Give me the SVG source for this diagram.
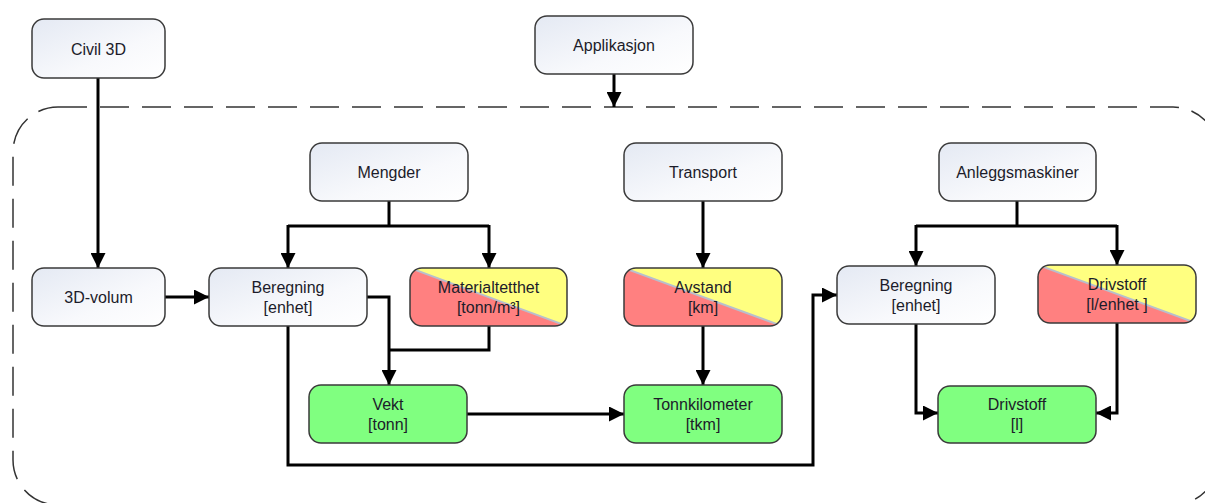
<svg xmlns="http://www.w3.org/2000/svg" width="1205" height="503" viewBox="0 0 1205 503">
  <style>
    .box { stroke: #3a3a3a; stroke-width: 1.5; }
    .plain { fill: url(#lightFill); }
    .green { fill: #80ff80; }
    .lbl { font-family: "Liberation Sans", Arial, sans-serif; font-size: 16px; fill: #1c1c2a; text-anchor: middle; }
    .wire { fill: none; stroke: #000; stroke-width: 3; }
    .arrow { fill: none; stroke: #000; stroke-width: 3; marker-end: url(#head); }
    .split { stroke: #b8bfcc; stroke-width: 2; }
  </style>
  <defs>
    <linearGradient id="lightFill" x1="0" y1="0" x2="1" y2="1">
      <stop offset="0" stop-color="#e4e9f3"/>
      <stop offset="0.6" stop-color="#f8f9fc"/>
      <stop offset="1" stop-color="#ffffff"/>
    </linearGradient>
    <marker id="head" markerUnits="userSpaceOnUse" markerWidth="15" markerHeight="15" refX="15" refY="7.5" orient="auto">
      <path d="M0,0 L15,7.5 L0,15 Z" fill="#000"/>
    </marker>
    <clipPath id="clipMat"><rect x="410" y="268" width="157" height="58" rx="12"/></clipPath>
    <clipPath id="clipAvs"><rect x="624" y="268" width="158" height="58" rx="12"/></clipPath>
    <clipPath id="clipDrv"><rect x="1038" y="265" width="158" height="58" rx="12"/></clipPath>
  </defs>

  <rect width="1205" height="503" fill="#ffffff"/>

  <!-- dashed application frame (runs past the right and bottom edges) -->
  <rect x="13" y="107" width="1205" height="398" rx="45" fill="none" stroke="#333" stroke-width="1.5" stroke-dasharray="29 13"/>

  <!-- connectors -->
  <g id="connectors">
    <path class="arrow" d="M98,78 V268"/>
    <path class="arrow" d="M614,74 V107"/>
    <path class="wire" d="M389,201 V226"/>
    <path class="wire" d="M288,226 H489"/>
    <path class="arrow" d="M288,225 V268"/>
    <path class="arrow" d="M489,225 V268"/>
    <path class="arrow" d="M165,297 H209"/>
    <path class="arrow" d="M367,297 H389 V385"/>
    <path class="wire" d="M489,326 V350 H389"/>
    <path class="arrow" d="M288,326 V465 H813 V295 H837"/>
    <path class="arrow" d="M467,414 H624"/>
    <path class="arrow" d="M703,201 V268"/>
    <path class="arrow" d="M703,326 V385"/>
    <path class="wire" d="M1017,201 V226"/>
    <path class="wire" d="M916,226 H1117"/>
    <path class="arrow" d="M916,225 V266"/>
    <path class="arrow" d="M1117,225 V265"/>
    <path class="arrow" d="M916,324 V413 H938"/>
    <path class="arrow" d="M1117,323 V413 H1096"/>
  </g>

  <g id="civil3d">
    <rect class="box plain" x="32" y="19" width="133" height="59" rx="12"/>
    <text class="lbl" x="98.5" y="54.5">Civil 3D</text>
  </g>
  <g id="applikasjon">
    <rect class="box plain" x="535" y="16" width="158" height="58" rx="12"/>
    <text class="lbl" x="614" y="51">Applikasjon</text>
  </g>
  <g id="mengder">
    <rect class="box plain" x="310" y="143" width="158" height="58" rx="12"/>
    <text class="lbl" x="389" y="177.5">Mengder</text>
  </g>
  <g id="transport">
    <rect class="box plain" x="624" y="143" width="158" height="58" rx="12"/>
    <text class="lbl" x="703" y="177.5">Transport</text>
  </g>
  <g id="anleggsmaskiner">
    <rect class="box plain" x="939" y="143" width="157" height="58" rx="12"/>
    <text class="lbl" x="1017.5" y="177.5">Anleggsmaskiner</text>
  </g>
  <g id="volum3d">
    <rect class="box plain" x="32" y="268" width="133" height="58" rx="12"/>
    <text class="lbl" x="98.5" y="302.5">3D-volum</text>
  </g>
  <g id="beregning1">
    <rect class="box plain" x="209" y="268" width="158" height="58" rx="12"/>
    <text class="lbl" x="288" y="292.5">Beregning</text>
    <text class="lbl" x="288" y="312.5">[enhet]</text>
  </g>
  <g id="materialtetthet">
    <g clip-path="url(#clipMat)">
      <rect x="410" y="268" width="157" height="58" fill="#ffff80"/>
      <polygon points="410,268 567,326 410,326" fill="#ff8080"/>
      <line class="split" x1="410" y1="268" x2="567" y2="326"/>
    </g>
    <rect class="box" x="410" y="268" width="157" height="58" rx="12" fill="none"/>
    <text class="lbl" x="488.5" y="292.5">Materialtetthet</text>
    <text class="lbl" x="488.5" y="312.5">[tonn/m³]</text>
  </g>
  <g id="avstand">
    <g clip-path="url(#clipAvs)">
      <rect x="624" y="268" width="158" height="58" fill="#ffff80"/>
      <polygon points="624,268 782,326 624,326" fill="#ff8080"/>
      <line class="split" x1="624" y1="268" x2="782" y2="326"/>
    </g>
    <rect class="box" x="624" y="268" width="158" height="58" rx="12" fill="none"/>
    <text class="lbl" x="703" y="292.5">Avstand</text>
    <text class="lbl" x="703" y="312.5">[km]</text>
  </g>
  <g id="beregning2">
    <rect class="box plain" x="837" y="266" width="158" height="58" rx="12"/>
    <text class="lbl" x="916" y="290.5">Beregning</text>
    <text class="lbl" x="916" y="310.5">[enhet]</text>
  </g>
  <g id="drivstoffrate">
    <g clip-path="url(#clipDrv)">
      <rect x="1038" y="265" width="158" height="58" fill="#ffff80"/>
      <polygon points="1038,265 1196,323 1038,323" fill="#ff8080"/>
      <line class="split" x1="1038" y1="265" x2="1196" y2="323"/>
    </g>
    <rect class="box" x="1038" y="265" width="158" height="58" rx="12" fill="none"/>
    <text class="lbl" x="1117" y="289.5">Drivstoff</text>
    <text class="lbl" x="1117" y="309.5">[l/enhet ]</text>
  </g>
  <g id="vekt">
    <rect class="box green" x="309" y="385" width="158" height="58" rx="12"/>
    <text class="lbl" x="388" y="409.5">Vekt</text>
    <text class="lbl" x="388" y="429.5">[tonn]</text>
  </g>
  <g id="tonnkilometer">
    <rect class="box green" x="624" y="385" width="158" height="58" rx="12"/>
    <text class="lbl" x="703" y="409.5">Tonnkilometer</text>
    <text class="lbl" x="703" y="429.5">[tkm]</text>
  </g>
  <g id="drivstoff">
    <rect class="box green" x="938" y="386" width="158" height="57" rx="12"/>
    <text class="lbl" x="1017" y="409.5">Drivstoff</text>
    <text class="lbl" x="1017" y="429.5">[l]</text>
  </g>
</svg>
